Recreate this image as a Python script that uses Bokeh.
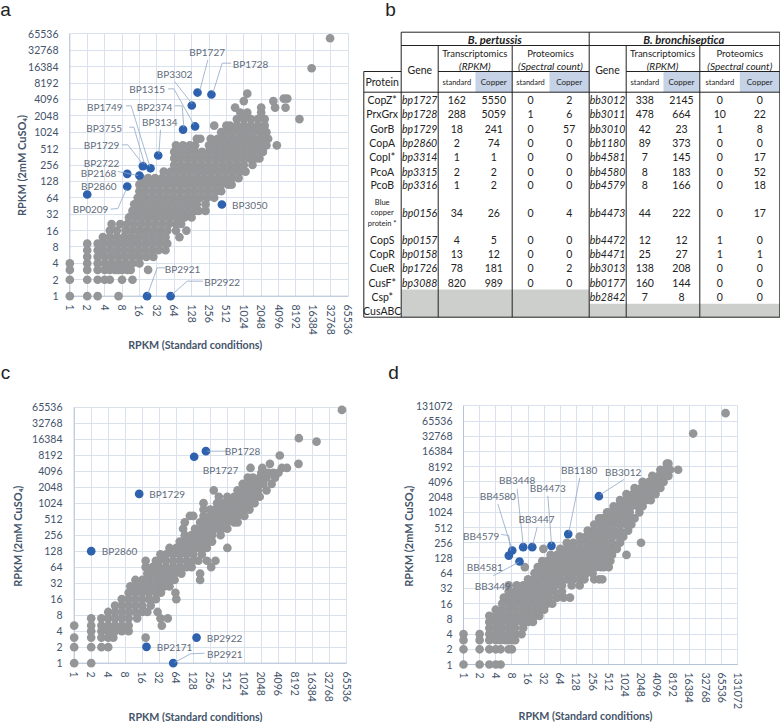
import math
from bokeh.plotting import figure
from bokeh.models import FixedTicker, NumeralTickFormatter
from bokeh.core.properties import value
from bokeh.embed import file_html
from bokeh.resources import INLINE

FONT = "Lato"
GRAY = "#949698"
BLUE = "#2e62ae"
GRID = "#d9e2ec"
AXIS = "#b4c4d6"
TICK = "#44546a"
LEAD = "#8fa7c6"

tick_labels_16 = [1, 2, 4, 8, 16, 32, 64, 128, 256, 512, 1024, 2048, 4096, 8192, 16384, 32768, 65536]
tick_labels_17 = tick_labels_16 + [131072]

# gray genes, log2(RPKM): rows of (log2 copper, [log2 standard ...])
a_rows = [
 (0, [0, 1, 1.6, 2.8]),
 (1, [0, 1, 1.6, 2, 2.3, 3, 3.6]),
 (1.6, [0, 1, 1.6, 2, 2.3, 2.6, 2.8, 3, 3.3, 3.5, 4.5]),
 (2, [0, 1, 1.6, 2, 2.4, 2.8, 3.2, 3.6, 4]),
 (2.4, [1, 1.6, 2, 2.4, 2.8, 3.2, 3.6, 4, 4.4, 4.8]),
 (2.8, [1, 1.6, 1.9, 2.3, 2.7, 3.1, 3.5, 3.9, 4.3, 4.7, 5.1, 5.5]),
 (3.2, [1, 1.6, 2, 2.4, 2.8, 3.2, 3.6, 4, 4.4, 4.8, 5.2, 5.6]),
 (3.6, [1.9, 2.3, 2.7, 3.1, 3.5, 3.9, 4.3, 4.7, 5.1, 5.5, 6.3]),
 (4, [2.3, 2.7, 3.2, 3.6, 4, 4.4, 4.8, 5.2, 5.6, 6.1, 6.7]),
 (4.4, [2.4, 2.9, 3.3, 3.7, 4.1, 4.5, 4.9, 5.3, 5.7, 6.1, 6.4]),
 (4.8, [3.4, 3.8, 4.2, 4.6, 5, 5.4, 5.8, 6.2, 6.6, 7]),
 (5.2, [3.6, 4, 4.4, 4.8, 5.2, 5.6, 6, 6.4, 6.8, 7.2, 7.4, 7.8]),
 (5.6, [3.7, 4.1, 4.5, 4.9, 5.3, 5.7, 6.1, 6.5, 6.9, 7.3, 7.8]),
 (6, [3.9, 4.3, 4.7, 5.1, 5.5, 5.9, 6.3, 6.7, 7.1, 7.5, 7.9, 8.3]),
 (6.4, [4, 4.4, 4.8, 5.2, 5.6, 6, 6.4, 6.8, 7.2, 7.6, 8, 8.4, 8.7]),
 (6.8, [4, 4.3, 4.7, 5.1, 5.5, 5.9, 6.3, 6.7, 7.1, 7.5, 7.9, 8.3, 8.7, 9.1, 9.3]),
 (7.2, [4.1, 4.5, 4.9, 5.3, 5.7, 6.1, 6.5, 6.9, 7.3, 7.7, 8.1, 8.5, 8.9, 9.3, 9.7]),
 (7.6, [5.4, 5.8, 6.2, 6.6, 7, 7.4, 7.8, 8.2, 8.6, 9, 9.4, 9.8, 10.1]),
 (8, [6, 6.4, 6.8, 7.2, 7.6, 8, 8.4, 8.8, 9.2, 9.6, 10, 10.5]),
 (8.4, [6, 6.3, 6.7, 7.1, 7.5, 7.9, 8.3, 8.7, 9.1, 9.5, 9.9, 10.3, 10.7, 10.9]),
 (8.8, [6, 6.4, 6.8, 7.2, 7.6, 8, 8.4, 8.8, 9.2, 9.6, 10, 10.4, 10.8, 11.1]),
 (9.2, [6.1, 6.5, 6.9, 7.2, 8, 8.3, 8.7, 9.1, 9.5, 9.9, 10.3, 10.7, 11.1, 11.3, 11.9]),
 (9.6, [7.3, 7.5, 8.1, 8.5, 8.9, 9.3, 9.7, 10.1, 10.5, 10.9, 11.3, 11.4]),
 (10, [8.7, 9, 9.4, 9.8, 10.2, 10.6, 11, 11.3]),
 (10.4, [8.3, 9, 9.2, 9.6, 10, 10.4, 10.8, 11.2]),
 (10.8, [9.6, 10, 10.4, 10.8, 11.2, 13.2]),
 (11.2, [10.2, 11, 9.8]),
 (11.5, [9.5, 11, 11.8, 12.4]),
 (11.9, [10, 11.7]),
 (12.05, [12.3, 12.5]),
 (12.35, [10.2]),
 (13.9, [13.9]),
 (15.73, [14.96]),
]
a_blue_x = [7.34, 8.14, 7.01, 7.2, 6.51, 5.08, 4.2, 4.64, 3.3, 4.0, 3.3, 1, 8.74, 4.44, 5.79]
a_blue_y = [12.42, 12.3, 11.63, 10.35, 10.16, 8.58, 7.93, 7.8, 7.46, 7.36, 6.69, 6.2, 5.59, 0, 0]

c_rows = [
 (0, [0, 1]),
 (1, [0, 1, 1.6, 2]),
 (1.6, [0, 1, 1.6, 2, 2.3, 4.2]),
 (2, [1, 1.6, 2, 2.4, 2.8, 3.2]),
 (2.35, [0, 1, 1.6, 2, 2.4, 2.8, 3.2, 5.15]),
 (2.8, [1, 1.6, 2, 2.4, 2.8, 3.2, 3.7, 5.07, 5.5]),
 (3.2, [2, 2.4, 2.8, 3.2, 3.6, 4, 4.3, 4.9]),
 (3.6, [2.4, 2.8, 3.2, 3.6, 4, 4.5]),
 (4, [2.8, 3.2, 3.6, 4, 4.4, 4.8, 6]),
 (4.4, [3.2, 3.6, 4, 4.4, 4.8, 5.1, 5.95]),
 (4.8, [3.3, 3.7, 4.1, 4.5, 4.9, 5.3, 5.6]),
 (5.2, [3.6, 4, 4.4, 4.8, 5.2, 5.6, 5.9, 7.4]),
 (5.6, [4.3, 4.7, 5.1, 5.5, 5.9, 6.3, 7.4]),
 (6, [4.2, 4.6, 5, 5.4, 5.8, 6.2, 6.6, 6.9, 8.05]),
 (6.4, [4.2, 4.8, 5.0, 5.4, 5.8, 6.2, 6.6, 7, 7.3, 7.8, 8.3]),
 (6.8, [5.07, 5.4, 5.8, 6.2, 6.6, 7, 7.5]),
 (7.2, [5.6, 6, 6.4, 6.8, 7.2, 7.6, 7.8, 9]),
 (7.6, [6.2, 6.6, 7, 7.4, 7.8, 8.1]),
 (8, [6.5, 6.9, 7.3, 7.7, 8.1, 8.6]),
 (8.4, [6.4, 7.1, 7.5, 7.9, 8.3, 8.7, 9]),
 (8.8, [6.5, 7.4, 7.8, 8.2, 8.6, 9, 9.4, 9.6]),
 (9.2, [6.8, 7, 7.6, 8, 8.4, 8.8, 9.2, 9.6, 10]),
 (9.6, [7.6, 8, 8.3, 8.7, 9.1, 9.5, 9.9, 10.3]),
 (10, [7.6, 8.4, 8.8, 9.2, 9.6, 10, 10.4, 10.6]),
 (10.4, [8.5, 9, 9.4, 9.8, 10.2, 10.6, 10.9]),
 (10.8, [8.2, 9.6, 10, 10.4, 10.8, 11.3]),
 (11.2, [9.9, 10.3, 10.7, 11.1, 11.6]),
 (11.6, [10.2, 10.5, 10.9, 11.3, 11.8]),
 (11.9, [11, 11.4, 11.7, 12]),
 (12.2, [10.36, 11.05, 12.2, 12.5]),
 (12.46, [11.5, 13.18]),
 (12.98, [12.08]),
 (13.85, [14.24]),
 (14.06, [13.2]),
 (15.83, [15.73]),
]
c_blue_x = [7.74, 7.05, 3.82, 1, 4.25, 7.19, 5.82]
c_blue_y = [13.25, 12.9, 10.58, 7, 1.02, 1.6, 0]

d_rows = [
 (0, [0, 1, 1.6, 2, 2.3]),
 (1, [0, 1, 1.6, 2, 2.3, 2.8, 3]),
 (1.6, [0, 1, 1.6, 2, 2.3, 2.6, 2.8, 3, 3.2]),
 (2, [0, 1, 1.6, 2, 2.4, 2.8, 3.2, 3.6]),
 (2.4, [1.6, 2, 2.4, 2.8, 3.2, 3.7]),
 (2.8, [1.6, 2, 2.4, 2.8, 3.2, 3.6, 4, 4.3]),
 (3.2, [1.6, 2, 2.4, 2.8, 3.2, 3.6, 4, 4.4, 4.7]),
 (3.6, [2, 2.4, 2.8, 3.2, 3.6, 4, 4.4, 4.8, 5]),
 (4, [2.4, 2.8, 3.2, 3.6, 4, 4.4, 4.8, 5.2, 5.5]),
 (4.4, [2.5, 2.9, 3.3, 3.7, 4.1, 4.5, 4.9, 5.3, 5.8, 6.2, 6.6]),
 (4.8, [2.8, 3.2, 3.6, 4, 4.4, 4.8, 5.2, 5.6, 6.1]),
 (5.2, [2.8, 3.3, 3.7, 4.1, 4.5, 4.9, 5.3, 5.7, 6.1, 6.7, 7.2]),
 (5.6, [4, 4.4, 4.8, 5.2, 5.6, 6, 6.4, 6.8, 7.2, 7.5, 8.1, 8.4, 8.6]),
 (6, [4.4, 4.8, 5.2, 5.6, 6, 6.4, 6.8, 7.2, 7.6, 8]),
 (6.4, [3.8, 4.6, 5, 5.4, 5.8, 6.2, 6.6, 7, 7.4, 7.8, 8.2, 8.5, 8.7, 9]),
 (6.8, [4.88, 5.2, 5.6, 6, 6.4, 6.8, 7.2, 7.6, 8, 8.4, 8.8, 9, 9.1]),
 (7.2, [5.4, 5.8, 6.2, 6.6, 7, 7.4, 7.8, 8.2, 8.6, 9, 9.2, 10.1]),
 (7.6, [4.95, 6, 6.4, 6.8, 7.2, 7.6, 8, 8.4, 8.8, 9.2, 9.5]),
 (8, [6.4, 6.8, 7.2, 7.6, 8, 8.4, 8.8, 9.2, 9.7, 11]),
 (8.4, [7.2, 7.6, 8, 8.4, 8.8, 9.2, 9.6, 9.9]),
 (8.8, [7.7, 8.1, 8.5, 8.9, 9.3, 9.7, 10.2]),
 (9.2, [8.1, 8.5, 8.9, 9.3, 9.7, 10.1, 10.4]),
 (9.6, [8.4, 8.6, 9, 9.4, 9.8, 10.2, 10.6]),
 (10, [8.9, 9.1, 9.5, 9.9, 10.3, 10.9]),
 (10.4, [9.3, 9.6, 10, 10.4, 10.8, 11.1]),
 (10.8, [9.7, 10.1, 10.5, 10.9, 11.3, 11.6]),
 (11.2, [10.1, 10.5, 10.9, 11.3, 11.7, 11.9]),
 (11.6, [10.6, 11, 11.4, 11.8, 12.2]),
 (12, [11.1, 11.5, 11.9, 12.3, 12.4]),
 (12.4, [11.7, 12.1, 12.5, 12.7]),
 (12.8, [12.2, 12.5, 12.8, 13.3]),
 (13.2, [12.6, 12.7]),
 (15.18, [14.23]),
 (16.52, [16.24]),
]
d_blue_x = [8.39, 6.49, 5.45, 4.26, 3.7, 3.02, 2.81, 3.47]
d_blue_y = [11.06, 8.57, 7.8, 7.71, 7.71, 7.49, 7.16, 6.77]

# gene label: text, x, y ; leader polylines (reference-crop coordinates)
a_labels = [("BP1727", 620, 153), ("BP1728", 750, 191), ("BP3302", 522, 219), ("BP1315", 440, 266),
            ("BP2374", 462, 318), ("BP1749", 313, 318), ("BP3134", 478, 364), ("BP3755", 311, 381),
            ("BP1729", 303, 434), ("BP2722", 303, 486), ("BP2168", 294, 516), ("BP2860", 295, 556),
            ("BP0209", 270, 626), ("BP3050", 748, 612), ("BP2921", 546, 806), ("BP2922", 665, 843)]
a_leads = [[(622, 178), (598, 270)], [(692, 188), (665, 188), (638, 275)], [(522, 243), (575, 310)],
           [(503, 265), (520, 265), (580, 372)], [(522, 316), (545, 316), (550, 380)],
           [(376, 316), (392, 316), (448, 498)], [(480, 388), (475, 460)],
           [(386, 380), (400, 380), (432, 490)], [(365, 433), (382, 433), (426, 490)],
           [(352, 513), (413, 525)], [(330, 626), (352, 624), (378, 565)],
           [(495, 802), (470, 802), (442, 880)], [(607, 842), (560, 842), (515, 882)]]
c_labels = [("BP1728", 726, 242), ("BP1727", 660, 299), ("BP1729", 500, 370), ("BP2860", 357, 542),
            ("BP2922", 672, 801), ("BP2171", 522, 829), ("BP2921", 673, 850)]
c_leads = [[(680, 242), (620, 242)], [(612, 848), (570, 850), (522, 876)]]
d_labels = [("BB3012", 728, 304), ("BB1180", 596, 298), ("BB3448", 410, 328), ("BB4473", 502, 351),
            ("BB4580", 352, 375), ("BB3447", 468, 444), ("BB4579", 302, 495), ("BB4581", 313, 589),
            ("BB3449", 337, 645)]
d_leads = [[(730, 327), (660, 372)], [(598, 322), (565, 485)], [(410, 355), (428, 522)],
           [(502, 376), (513, 520)], [(352, 400), (392, 530)], [(470, 470), (457, 522)],
           [(362, 492), (385, 495), (390, 540)], [(338, 616), (415, 575)]]

# table values
proteins = ["CopZ*", "PrxGrx", "GorB", "CopA", "CopI*", "PcoA", "PcoB", "", "CopS", "CopR", "CueR", "CusF*", "Csp*", "CusABC"]
bp_genes = ["bp1727", "bp1728", "bp1729", "bp2860", "bp3314", "bp3315", "bp3316", "bp0156", "bp0157", "bp0158", "bp1726", "bp3088", "", ""]
bp_rna_std = ["162", "288", "18", "2", "1", "2", "1", "34", "4", "13", "78", "820", "", ""]
bp_rna_cu = ["5550", "5059", "241", "74", "1", "2", "2", "26", "5", "12", "181", "989", "", ""]
bp_prot_std = ["0", "1", "0", "0", "0", "0", "0", "0", "0", "0", "0", "0", "", ""]
bp_prot_cu = ["2", "6", "57", "0", "0", "0", "0", "4", "0", "0", "2", "0", "", ""]
bb_genes = ["bb3012", "bb3011", "bb3010", "bb1180", "bb4581", "bb4580", "bb4579", "bb4473", "bb4472", "bb4471", "bb3013", "bb0177", "bb2842", ""]
bb_rna_std = ["338", "478", "42", "89", "7", "8", "8", "44", "12", "25", "138", "160", "7", ""]
bb_rna_cu = ["2145", "664", "23", "373", "145", "183", "166", "222", "12", "27", "208", "144", "8", ""]
bb_prot_std = ["0", "10", "1", "0", "0", "0", "0", "0", "1", "1", "0", "0", "0", ""]
bb_prot_cu = ["0", "22", "8", "0", "17", "52", "18", "17", "0", "1", "0", "0", "0", ""]


def log_panel(ticks, box, origin, size, rows, blue_x, blue_y, labels, leads):
    X0, X1, Y0, Y1 = box          # crop coordinates of the lowest / highest ticks
    ox, oy = origin               # where the crop starts on the page
    W, H, fx, fy = size           # figure size and its place on the page
    n = len(ticks) - 1
    left, right = ox + X0 / 3 - fx, ox + X1 / 3 - fx
    top, bottom = oy + Y0 / 3 - fy, oy + Y1 / 3 - fy
    ux, uy = (right - left) / n, (bottom - top) / n
    fl, fr = math.floor(left - 8), math.ceil(right + 8)
    ft, fb = math.floor(top - 8), math.ceil(bottom + 8)
    dx = lambda X: 2 ** (((ox + X / 3 - fx) - left) / ux)
    dy = lambda Y: 2 ** ((bottom - (oy + Y / 3 - fy)) / uy)
    p = figure(frame_width=fr - fl, frame_height=fb - ft, x_axis_type="log", y_axis_type="log",
               x_range=(dx((fl + fx - ox) * 3), dx((fr + fx - ox) * 3)),
               y_range=(dy((fb + fy - oy) * 3), dy((ft + fy - oy) * 3)),
               min_border_left=fl, min_border_right=W - fr, min_border_top=ft,
               min_border_bottom=H - fb, toolbar_location=None, output_backend="svg",
               outline_line_color=None, tools="",
               styles={"position": "absolute", "left": f"{fx}px", "top": f"{fy}px"})
    lo, hi = ticks[0], ticks[-1]
    for ax in (p.xaxis[0], p.yaxis[0]):
        ax.ticker = FixedTicker(ticks=ticks)
        ax.formatter = NumeralTickFormatter(format="0")
        ax.bounds = (lo, hi)
        ax.axis_line_color = None
        ax.major_tick_line_color = None
        ax.minor_tick_line_color = None
        ax.major_tick_in = 0
        ax.major_tick_out = 0
        ax.minor_tick_in = 0
        ax.minor_tick_out = 0
        ax.major_label_text_font = FONT
        ax.major_label_text_font_size = "10.5px"
        ax.major_label_text_color = TICK
    p.xaxis[0].major_label_orientation = -math.pi / 2
    p.xaxis[0].major_label_standoff = 0
    p.yaxis[0].major_label_standoff = 3
    for g in (p.xgrid[0], p.ygrid[0]):
        g.ticker = FixedTicker(ticks=ticks)
        g.grid_line_color = GRID
        g.grid_line_width = 1
        g.bounds = (lo, hi)
        g.cross_bounds = (lo, hi)
    p.segment([lo, lo], [lo, lo], [hi, lo], [lo, hi], line_color=AXIS, line_width=1)
    gx = [2 ** v for y, xs in rows for v in xs]
    gy = [2 ** y for y, xs in rows for v in xs]
    p.scatter(gx, gy, size=8.7, fill_color=GRAY, line_color=None)
    p.scatter([2 ** v for v in blue_x], [2 ** v for v in blue_y], size=8.7, fill_color=BLUE, line_color=None)
    p.multi_line([[dx(a) for a, b in l] for l in leads], [[dy(b) for a, b in l] for l in leads],
                 line_color=LEAD, line_width=0.8)
    p.text([dx(t[1]) for t in labels], [dy(t[2]) for t in labels], [t[0] for t in labels],
           text_font=value(FONT), text_font_size="10px", text_color="#5f6c7b",
           text_align="center", text_baseline="middle")
    return p


pa = log_panel(tick_labels_16, (208, 1043, 100, 887), (0, 0), (360, 360, 0, 0), a_rows, a_blue_x, a_blue_y,
               a_labels, a_leads)
pc = log_panel(tick_labels_16, (221, 1038, 110, 878), (0, 370), (380, 362, 0, 360), c_rows, c_blue_x, c_blue_y,
               c_labels, c_leads)
pd_ = log_panel(tick_labels_17, (249, 1072, 106, 882), (380, 370), (400, 362, 380, 360), d_rows, d_blue_x, d_blue_y,
                d_labels, d_leads)

# transparent page-wide layer: table b, panel letters, axis titles (page coordinates)
b = figure(width=780, height=722, x_range=(0, 780), y_range=(722, 0), min_border=0,
           toolbar_location=None, output_backend="svg", outline_line_color=None, tools="",
           x_axis_location=None, y_axis_location=None, background_fill_color=None, border_fill_color=None,
           styles={"position": "absolute", "left": "0px", "top": "0px"})
b.grid.visible = False
row_y = [99.3, 113.7, 128, 142.3, 156, 171, 184.3, 212, 239.3, 253.7, 267.7, 282, 296.3, 310.3]
col_x = dict(prot=381.7, g1=419.2, s1=456.3, c1=493.3, ps1=530, pc1=568.7, g2=607, s2=644.3, c2=681, ps2=719.3, pc2=759.3)
b.quad(left=[475, 549, 663, 739.3], right=[511.7, 588.7, 699.3, 779.3], top=[71] * 4, bottom=[91.7] * 4,
       fill_color="#c6d2e6", line_color=None)
b.quad(left=[400.7, 588.7], right=[588.7, 779.3], top=[289, 303.3], bottom=[316.7, 316.7], fill_color="#cdcfcd", line_color=None)
H = [(400.7, 31.7, 779.3), (400.7, 45, 779.3), (363.3, 71, 400.7), (437.7, 71, 588.7), (625.7, 71, 779.3),
     (363.3, 91.7, 779.3), (363.3, 316.7, 779.3)]
b.segment(x0=[h[0] for h in H], y0=[h[1] for h in H], x1=[h[2] for h in H], y1=[h[1] for h in H], line_color="#222222", line_width=1)
V = [(400.7, 31.7), (588.7, 31.7), (779.3, 31.7), (437.7, 45), (511.7, 45), (625.7, 45), (699.3, 45), (363.3, 71)]
b.segment(x0=[v[0] for v in V], y0=[v[1] for v in V], x1=[v[0] for v in V], y1=[316.7] * len(V), line_color="#222222", line_width=1)


def txt(xs, ys, ts, size="10.5px", style="normal", color="#222222", font=FONT, angle=0):
    b.text(xs, ys, ts, text_font=value(font), text_font_size=size, text_font_style=style, text_color=color,
           text_align="center", text_baseline="middle", angle=angle)


for key, vals, st in (("prot", proteins, "normal"), ("g1", bp_genes, "italic"), ("s1", bp_rna_std, "normal"),
                      ("c1", bp_rna_cu, "normal"), ("ps1", bp_prot_std, "normal"), ("pc1", bp_prot_cu, "normal"),
                      ("g2", bb_genes, "italic"), ("s2", bb_rna_std, "normal"), ("c2", bb_rna_cu, "normal"),
                      ("ps2", bb_prot_std, "normal"), ("pc2", bb_prot_cu, "normal")):
    keep = [i for i, v in enumerate(vals) if v]
    txt([col_x[key]] * len(keep), [row_y[i] for i in keep], [vals[i] for i in keep], style=st)
txt([381.7] * 3, [201.7, 212.3, 222.7], ["Blue", "copper", "protein *"], size="7.5px")
txt([494.3, 683.3], [38.5, 38.5], ["B. pertussis", "B. bronchiseptica"], size="11.2px", style="bold italic")
txt([474.3, 550, 662, 739.3], [52.7] * 4, ["Transcriptomics", "Proteomics", "Transcriptomics", "Proteomics"], size="9.5px")
txt([474.3, 550, 662, 739.3], [65] * 4, ["(RPKM)", "(Spectral count)", "(RPKM)", "(Spectral count)"], size="10px", style="italic")
txt([419.3, 607], [69, 69], ["Gene", "Gene"])
txt([381.7], [81.7], ["Protein"])
txt([456.3, 530, 644.3, 719.3], [81.7] * 4, ["standard"] * 4, size="7.5px")
txt([493.3, 568.7, 681, 759.3], [81.7] * 4, ["Copper"] * 4, size="8px")
txt([5, 390, 5, 393], [9, 9, 372, 372], ["a", "b", "c", "d"], size="19px", font="Liberation Sans")
txt([194.7, 195, 585], [344, 716, 715], ["RPKM (Standard conditions)"] * 3, size="10.7px", style="bold", color=TICK)
txt([21.3, 17.3, 407.7], [165, 535.7, 535.7], ["RPKM (2mM CuSO\u2084)"] * 3, size="11px", style="bold", color=TICK, angle=math.pi / 2)

open("out.html", "w").write(file_html([pa, pc, pd_, b], INLINE))
